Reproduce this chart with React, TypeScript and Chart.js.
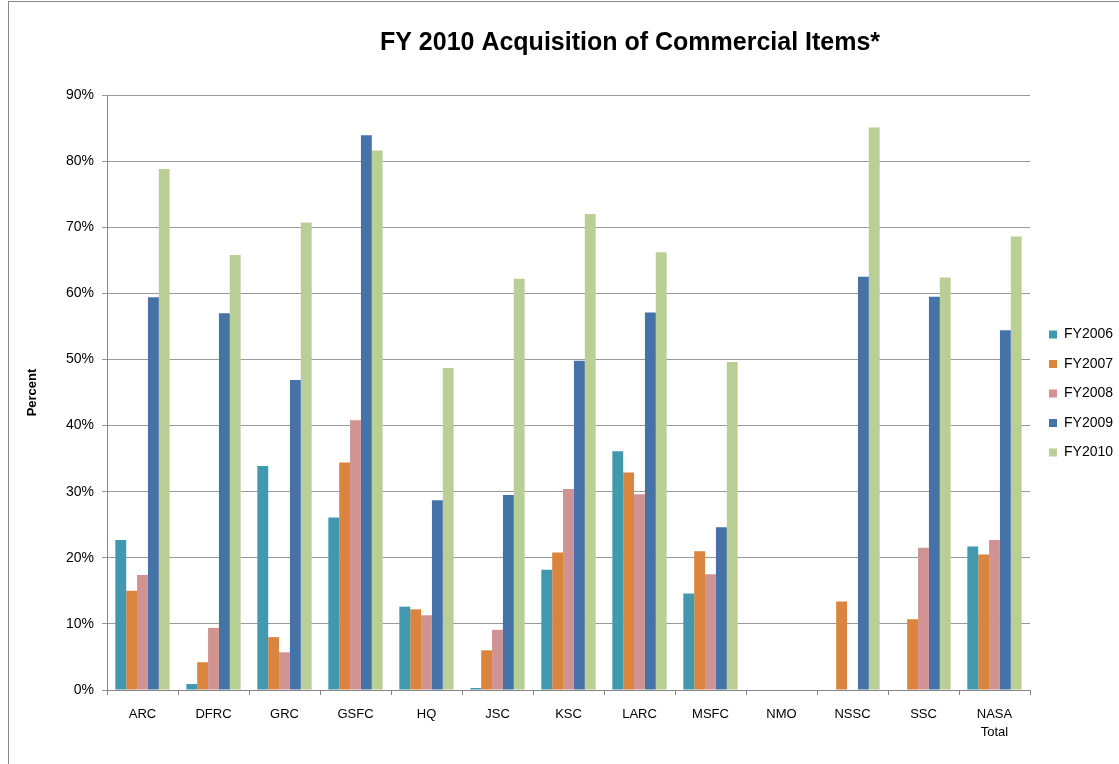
import React, { useEffect, useRef } from "react";
import { Chart, registerables } from "chart.js";

Chart.register(...registerables);

const categories: (string | string[])[] = [
  "ARC", "DFRC", "GRC", "GSFC", "HQ", "JSC", "KSC", "LARC", "MSFC", "NMO", "NSSC", "SSC", ["NASA", "Total"],
];

const fy2006: (number | null)[] = [22.7, 0.9, 33.9, 26.1, 12.6, 0.3, 18.2, 36.1, 14.6, null, null, null, 21.7];
const fy2007: (number | null)[] = [15.0, 4.2, 8.0, 34.4, 12.2, 6.0, 20.8, 32.9, 21.0, null, 13.4, 10.7, 20.5];
const fy2008: (number | null)[] = [17.4, 9.4, 5.7, 40.8, 11.3, 9.1, 30.4, 29.6, 17.5, null, null, 21.5, 22.7];
const fy2009: (number | null)[] = [59.4, 57.0, 46.9, 83.9, 28.7, 29.5, 49.8, 57.1, 24.6, null, 62.5, 59.5, 54.4];
const fy2010: (number | null)[] = [78.8, 65.8, 70.7, 81.6, 48.7, 62.2, 72.0, 66.2, 49.6, null, 85.1, 62.4, 68.6];

const seriesNames = ["FY2006", "FY2007", "FY2008", "FY2009", "FY2010"];
const seriesColors = ["#4198AF", "#DB843D", "#D19392", "#4572A7", "#BACF96"];

const yTicks = [0, 10, 20, 30, 40, 50, 60, 70, 80, 90];

const titleText = "FY 2010 Acquisition of Commercial Items*";
const yAxisTitle = "Percent";

const FONT = "'Liberation Sans', Arial, sans-serif";
const W = 1110;
const H = 763;
const LEGEND_W = 89;

const titlePlugin = {
  id: "customTitle",
  afterDraw(chart: any) {
    const ctx = chart.ctx;
    ctx.save();
    ctx.font = `bold 25px ${FONT}`;
    ctx.fillStyle = "#000";
    ctx.textAlign = "center";
    ctx.textBaseline = "middle";
    ctx.fillText(titleText, 621, 41);
    ctx.restore();
  },
};

const legendFix = {
  id: "legendFix",
  beforeLayout(chart: any) {
    const lg = chart.legend;
    if (lg && !lg.__fixed) {
      const fit = lg.fit;
      lg.fit = function () {
        fit.call(this);
        this.width = LEGEND_W;
      };
      lg.__fixed = true;
    }
  },
  afterLayout(chart: any) {
    const lg = chart.legend;
    if (lg) {
      lg.left = 1024.5;
      lg.top = 310;
    }
  },
};

export default function App() {
  const ref = useRef<HTMLCanvasElement | null>(null);

  useEffect(() => {
    if (!ref.current) return;
    const all = [fy2006, fy2007, fy2008, fy2009, fy2010];
    const chart = new Chart(ref.current, {
      type: "bar",
      data: {
        labels: categories as any,
        datasets: all.map((d, i) => ({
          label: seriesNames[i],
          data: d,
          backgroundColor: seriesColors[i],
          borderWidth: 0,
          categoryPercentage: 0.765,
          barPercentage: 1,
        })),
      },
      options: {
        responsive: false,
        animation: false,
        devicePixelRatio: 1,
        layout: { padding: { top: 93, left: 0, right: 0, bottom: 0 } },
        font: { family: FONT },
        plugins: {
          title: { display: false },
          tooltip: { enabled: false },
          legend: {
            position: "right",
            align: "start",
            labels: {
              boxWidth: 8,
              boxHeight: 8,
              padding: 15.5,
              color: "#000",
              font: { family: FONT, size: 14 },
            },
          },
        },
        scales: {
          x: {
            afterFit: (s: any) => {
              s.height = 75;
            },
            grid: {
              offset: true,
              drawOnChartArea: false,
              drawTicks: true,
              tickLength: 5,
              color: "#868686",
            },
            border: { display: true, color: "#868686" },
            ticks: {
              color: "#000",
              padding: 10,
              maxRotation: 0,
              autoSkip: false,
              font: { family: FONT, size: 13, lineHeight: 18 / 13 },
            },
          },
          y: {
            min: 0,
            max: 90,
            afterFit: (s: any) => {
              s.width = 98;
            },
            afterBuildTicks: (s: any) => {
              s.ticks = yTicks.map((v) => ({ value: v }));
            },
            grid: {
              color: "#999999",
              drawTicks: true,
              tickLength: 5,
            },
            border: { display: true, color: "#868686" },
            ticks: {
              color: "#000",
              padding: 8,
              font: { family: FONT, size: 14 },
              callback: (v: any) => `${v}%`,
            },
            title: {
              display: true,
              text: yAxisTitle,
              color: "#000",
              font: { family: FONT, size: 13, weight: "bold" },
              padding: { top: 16, bottom: 0 },
            },
          },
        },
      },
      plugins: [titlePlugin, legendFix],
    });
    return () => chart.destroy();
  }, []);

  return (
    <div
      style={{
        position: "fixed",
        left: 8,
        top: 1,
        width: W,
        height: H,
        borderLeft: "1px solid #888",
        borderTop: "1px solid #888",
        background: "#fff",
      }}
    >
      <canvas ref={ref} width={W} height={H} style={{ display: "block", width: W, height: H }} />
    </div>
  );
}
